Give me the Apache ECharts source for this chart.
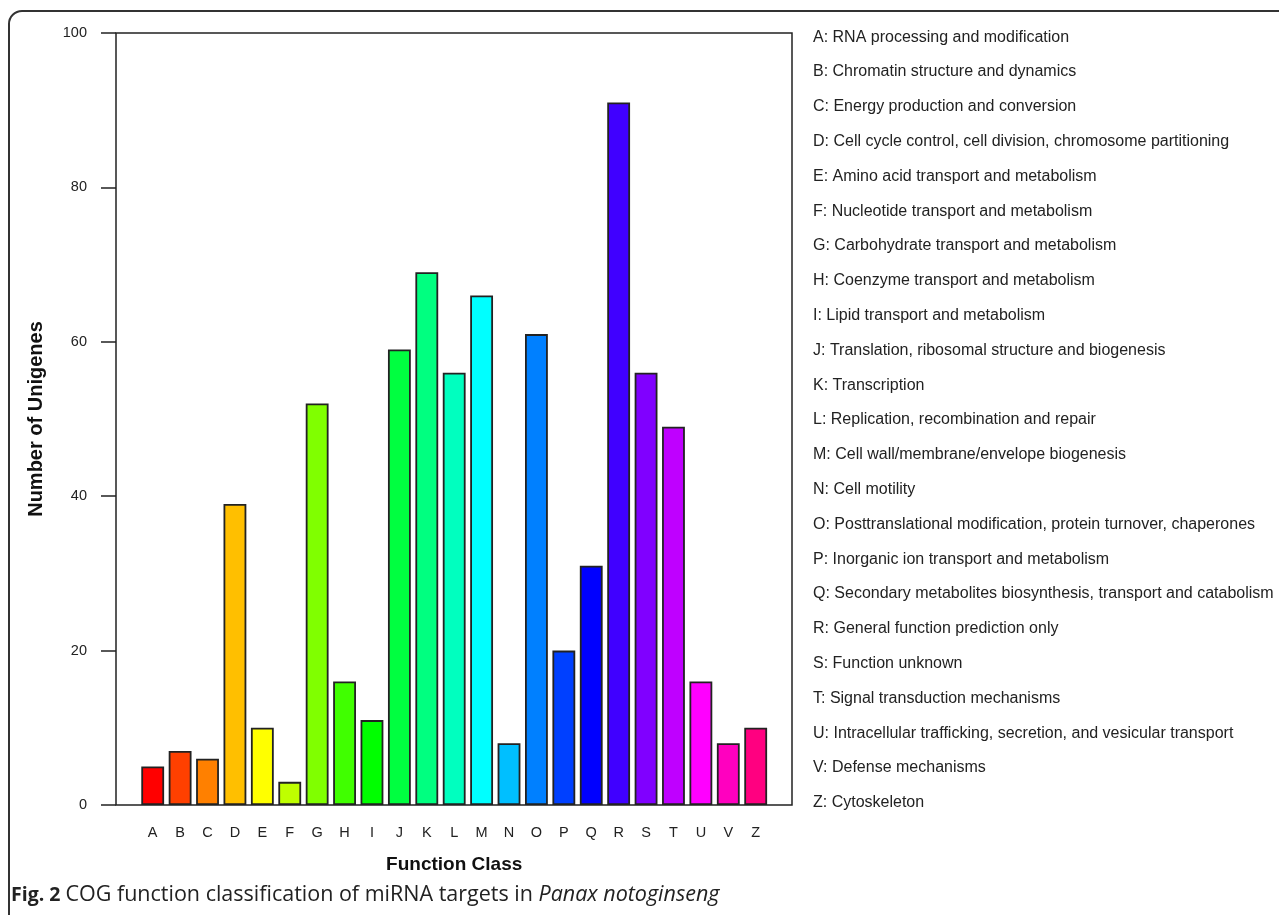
<!DOCTYPE html>
<html>
<head>
<meta charset="utf-8">
<script src="https://cdn.jsdelivr.net/npm/echarts@6/dist/echarts.min.js"></script>
<style>
html,body{margin:0;padding:0;background:#fff;}
#chart{width:1279px;height:915px;}
</style>
</head>
<body>
<div id="chart"></div>
<script>
const categories = ['A','B','C','D','E','F','G','H','I','J','K','L','M','N','O','P','Q','R','S','T','U','V','Z'];
const counts = [5,7,6,39,10,3,52,16,11,59,69,56,66,8,61,20,31,91,56,49,16,8,10];
const descriptions = [
  'RNA processing and modification',
  'Chromatin structure and dynamics',
  'Energy production and conversion',
  'Cell cycle control, cell division, chromosome partitioning',
  'Amino acid transport and metabolism',
  'Nucleotide transport and metabolism',
  'Carbohydrate transport and metabolism',
  'Coenzyme transport and metabolism',
  'Lipid transport and metabolism',
  'Translation, ribosomal structure and biogenesis',
  'Transcription',
  'Replication, recombination and repair',
  'Cell wall/membrane/envelope biogenesis',
  'Cell motility',
  'Posttranslational modification, protein turnover, chaperones',
  'Inorganic ion transport and metabolism',
  'Secondary metabolites biosynthesis, transport and catabolism',
  'General function prediction only',
  'Function unknown',
  'Signal transduction mechanisms',
  'Intracellular trafficking, secretion, and vesicular transport',
  'Defense mechanisms',
  'Cytoskeleton'
];
const yTicks = [0,20,40,60,80,100];
const barColors = ['#FF0000','#FF4000','#FF8000','#FFBF00','#FFFF00','#BFFF00','#80FF00','#40FF00','#00FF00','#00FF40','#00FF80','#00FFBF','#00FFFF','#00BFFF','#0080FF','#0040FF','#0000FF','#4000FF','#8000FF','#BF00FF','#FF00FF','#FF00BF','#FF0080'];

const chart = echarts.init(document.getElementById('chart'), null, {renderer:'canvas'});
const legendText = categories.map((c,i)=>c+': '+descriptions[i]).join('\n');
const font = '"Liberation Sans", Arial, sans-serif';
const capFont = '"Open Sans", "Noto Sans", sans-serif';

chart.setOption({
  backgroundColor:'#fff',
  animation:false,
  title:[
    {
      text: legendText,
      left: 808, top: 14.8,
      textStyle:{fontFamily:font, fontSize:16, fontWeight:'normal', color:'#222', lineHeight:34.8}
    },
    {
      text: '{b|Fig. 2} {n|COG function classification of miRNA targets in }{i|Panax notoginseng}',
      left: 6, top: 879,
      textStyle:{
        fontWeight:'normal',
        rich:{
          b:{fontFamily:capFont, fontWeight:'bold', fontSize:19.5, color:'#222'},
          n:{fontFamily:capFont, fontWeight:'normal', fontSize:21.5, color:'#222'},
          i:{fontFamily:capFont, fontWeight:'normal', fontStyle:'italic', fontSize:21.5, color:'#222'}
        }
      }
    }
  ],
  graphic:[
    {type:'rect', shape:{x:9, y:11, width:1400, height:1000, r:13}, style:{fill:'none', stroke:'#333', lineWidth:2}, silent:true}
  ],
  grid:[
    {left:116, top:33, width:676, height:772, show:true, borderColor:'#222', borderWidth:1.5, backgroundColor:'transparent'},
    {left:139, top:33, width:630.4, height:772}
  ],
  xAxis:[
    {type:'value', gridIndex:0, min:0, max:1, show:false},
    {type:'category', gridIndex:1, data:categories,
     axisLine:{show:false}, axisTick:{show:false},
     axisLabel:{fontFamily:font, fontSize:14.5, color:'#222', margin:20, interval:0},
     name:'Function Class', nameLocation:'middle', nameGap:50,
     nameTextStyle:{fontFamily:font, fontSize:19, fontWeight:'bold', color:'#111'}}
  ],
  yAxis:[
    {type:'value', gridIndex:0, min:0, max:100, interval:20,
     axisLine:{show:false},
     axisTick:{show:true, length:15, inside:false, lineStyle:{color:'#222', width:1.5}},
     splitLine:{show:false},
     axisLabel:{fontFamily:font, fontSize:14.5, color:'#222', margin:29,
       formatter:(v)=> yTicks.includes(v) ? String(v) : ''},
     name:'Number of Unigenes', nameLocation:'middle', nameGap:70, nameRotate:90,
     nameTextStyle:{fontFamily:font, fontSize:20, fontWeight:'bold', color:'#111'}},
    {type:'value', gridIndex:1, min:0, max:100, show:false}
  ],
  series:[{
    type:'bar', xAxisIndex:1, yAxisIndex:1,
    data: counts.map((v,i)=>({value:v, itemStyle:{color:barColors[i]}})),
    barCategoryGap:'16.67%',
    itemStyle:{borderColor:'#222', borderWidth:1.8}
  }]
});
</script>
</body>
</html>
